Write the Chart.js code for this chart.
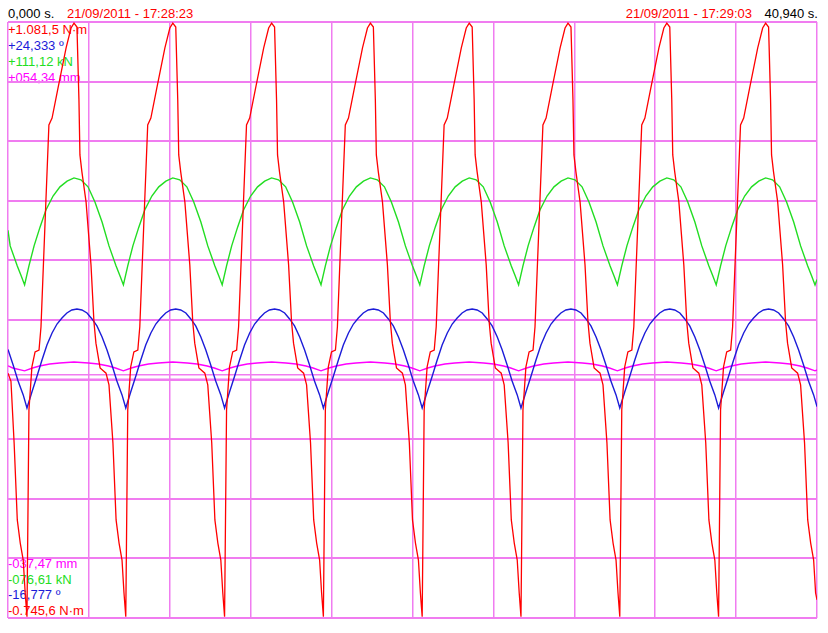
<!DOCTYPE html>
<html><head><meta charset="utf-8">
<script src="https://cdn.jsdelivr.net/npm/chart.js@4"></script>
<style>
html,body{margin:0;padding:0;background:#fff;}
#wrap{position:relative;width:828px;height:633px;overflow:hidden;}
#c{position:absolute;left:0;top:0;z-index:2;}
.lbl{position:absolute;z-index:1;font-family:'Liberation Sans',Arial,sans-serif;font-size:13px;line-height:16px;white-space:nowrap;}
</style></head><body>
<div id="wrap"><canvas id="c" width="828" height="633"></canvas></div>
<script>
// ---- text ----
const headerLeft = ['0,000 s.', '21/09/2011 - 17:28:23'];
const headerRight = ['21/09/2011 - 17:29:03', '40,940 s.'];
const maxLabels = ['+1.081,5 N·m', '+24,333 º', '+111,12 kN', '+054,34 mm'];
const minLabels = ['-037,47 mm', '-076,61 kN', '-16,777 º', '-0.745,6 N·m'];

// ---- channel ranges ----
const torqueRange = [-745.6, 1081.5];
const angleRange = [-16.777, 24.333];
const forceRange = [-76.61, 111.12];
const dispRange = [-37.47, 54.34];
const timeRange = [0, 40.94];
const zeroLevels = [0, -13.5];

// ---- torque (N·m) ----
const torqueT = [
0, 0.15, 0.31, 0.47, 0.62, 0.77, 0.87,
0.96, 1.06, 1.21, 1.37, 1.57, 1.67, 1.89, 2.07, 2.23, 2.53, 2.94, 3.19, 3.34, 3.49, 3.59, 3.64, 3.74, 3.95, 4.20, 4.35, 4.45, 4.66, 4.96, 5.11, 5.31, 5.47, 5.62, 5.77, 5.87,
5.96, 6.06, 6.21, 6.37, 6.57, 6.67, 6.89, 7.07, 7.23, 7.53, 7.94, 8.19, 8.34, 8.49, 8.59, 8.64, 8.74, 8.95, 9.20, 9.35, 9.45, 9.66, 9.96, 10.11, 10.31, 10.47, 10.62, 10.77, 10.87,
10.96, 11.06, 11.21, 11.37, 11.57, 11.67, 11.89, 12.07, 12.23, 12.53, 12.94, 13.19, 13.34, 13.49, 13.59, 13.64, 13.74, 13.95, 14.20, 14.35, 14.45, 14.66, 14.96, 15.11, 15.31, 15.47, 15.62, 15.77, 15.87,
15.96, 16.06, 16.21, 16.37, 16.57, 16.67, 16.89, 17.07, 17.23, 17.53, 17.94, 18.19, 18.34, 18.49, 18.59, 18.64, 18.74, 18.95, 19.20, 19.35, 19.45, 19.66, 19.96, 20.11, 20.31, 20.47, 20.62, 20.77, 20.87,
20.96, 21.06, 21.21, 21.37, 21.57, 21.67, 21.89, 22.07, 22.23, 22.53, 22.94, 23.19, 23.34, 23.49, 23.59, 23.64, 23.74, 23.95, 24.20, 24.35, 24.45, 24.66, 24.96, 25.11, 25.31, 25.47, 25.62, 25.77, 25.87,
25.96, 26.06, 26.21, 26.37, 26.57, 26.67, 26.89, 27.07, 27.23, 27.53, 27.94, 28.19, 28.34, 28.49, 28.59, 28.64, 28.74, 28.95, 29.20, 29.35, 29.45, 29.66, 29.96, 30.11, 30.31, 30.47, 30.62, 30.77, 30.87,
30.96, 31.06, 31.21, 31.37, 31.57, 31.67, 31.89, 32.07, 32.23, 32.53, 32.94, 33.19, 33.34, 33.49, 33.59, 33.64, 33.74, 33.95, 34.20, 34.35, 34.45, 34.66, 34.96, 35.11, 35.31, 35.47, 35.62, 35.77, 35.87,
35.96, 36.06, 36.21, 36.37, 36.57, 36.67, 36.89, 37.07, 37.23, 37.53, 37.94, 38.19, 38.34, 38.49, 38.59, 38.64, 38.74, 38.95, 39.20, 39.35, 39.45, 39.66, 39.96, 40.11, 40.31, 40.47, 40.62, 40.77, 40.87,
40.94];
const torqueV = [
5, -20, -209, -445, -516, -568, -669,
-742, -108, 24, 70, 76, 147, 490, 766, 787, 879, 1002, 1063, 1078, 1066, 843, 674, 622, 530, 337, 162, 97, 21, 5, -31, -209, -445, -516, -568, -669,
-742, -108, 24, 70, 76, 147, 490, 766, 787, 879, 1002, 1063, 1078, 1066, 843, 674, 622, 530, 337, 162, 97, 21, 5, -31, -209, -445, -516, -568, -669,
-742, -108, 24, 70, 76, 147, 490, 766, 787, 879, 1002, 1063, 1078, 1066, 843, 674, 622, 530, 337, 162, 97, 21, 5, -31, -209, -445, -516, -568, -669,
-742, -108, 24, 70, 76, 147, 490, 766, 787, 879, 1002, 1063, 1078, 1066, 843, 674, 622, 530, 337, 162, 97, 21, 5, -31, -209, -445, -516, -568, -669,
-742, -108, 24, 70, 76, 147, 490, 766, 787, 879, 1002, 1063, 1078, 1066, 843, 674, 622, 530, 337, 162, 97, 21, 5, -31, -209, -445, -516, -568, -669,
-742, -108, 24, 70, 76, 147, 490, 766, 787, 879, 1002, 1063, 1078, 1066, 843, 674, 622, 530, 337, 162, 97, 21, 5, -31, -209, -445, -516, -568, -669,
-742, -108, 24, 70, 76, 147, 490, 766, 787, 879, 1002, 1063, 1078, 1066, 843, 674, 622, 530, 337, 162, 97, 21, 5, -31, -209, -445, -516, -568, -669,
-742, -108, 24, 70, 76, 147, 490, 766, 787, 879, 1002, 1063, 1078, 1066, 843, 674, 622, 530, 337, 162, 97, 21, 5, -31, -209, -445, -516, -568, -669,
-690];

// ---- angle (º) ----
const angleT = [
0, 0.26, 0.51, 0.77,
0.96, 1.21, 1.47, 1.72, 1.97, 2.23, 2.48, 2.73, 2.98, 3.23, 3.49, 3.74, 4.00, 4.25, 4.50, 4.76, 5.01, 5.26, 5.51, 5.77,
5.96, 6.21, 6.47, 6.72, 6.97, 7.23, 7.48, 7.73, 7.98, 8.23, 8.49, 8.74, 9.00, 9.25, 9.50, 9.76, 10.01, 10.26, 10.51, 10.77,
10.96, 11.21, 11.47, 11.72, 11.97, 12.23, 12.48, 12.73, 12.98, 13.23, 13.49, 13.74, 14.00, 14.25, 14.50, 14.76, 15.01, 15.26, 15.51, 15.77,
15.96, 16.21, 16.47, 16.72, 16.97, 17.23, 17.48, 17.73, 17.98, 18.23, 18.49, 18.74, 19.00, 19.25, 19.50, 19.76, 20.01, 20.26, 20.51, 20.77,
20.96, 21.21, 21.47, 21.72, 21.97, 22.23, 22.48, 22.73, 22.98, 23.23, 23.49, 23.74, 24.00, 24.25, 24.50, 24.76, 25.01, 25.26, 25.51, 25.77,
25.96, 26.21, 26.47, 26.72, 26.97, 27.23, 27.48, 27.73, 27.98, 28.23, 28.49, 28.74, 29.00, 29.25, 29.50, 29.76, 30.01, 30.26, 30.51, 30.77,
30.96, 31.21, 31.47, 31.72, 31.97, 32.23, 32.48, 32.73, 32.98, 33.23, 33.49, 33.74, 34.00, 34.25, 34.50, 34.76, 35.01, 35.26, 35.51, 35.77,
35.96, 36.21, 36.47, 36.72, 36.97, 37.23, 37.48, 37.73, 37.98, 38.23, 38.49, 38.74, 39.00, 39.25, 39.50, 39.76, 40.01, 40.26, 40.51, 40.77,
40.94];
const angleV = [
1.75, 0.68, -0.43, -1.39,
-2.29, -1.19, -0.08, 1.02, 2.05, 2.88, 3.50, 3.92, 4.26, 4.47, 4.54, 4.47, 4.26, 3.85, 3.37, 2.61, 1.71, 0.68, -0.43, -1.39,
-2.29, -1.19, -0.08, 1.02, 2.05, 2.88, 3.50, 3.92, 4.26, 4.47, 4.54, 4.47, 4.26, 3.85, 3.37, 2.61, 1.71, 0.68, -0.43, -1.39,
-2.29, -1.19, -0.08, 1.02, 2.05, 2.88, 3.50, 3.92, 4.26, 4.47, 4.54, 4.47, 4.26, 3.85, 3.37, 2.61, 1.71, 0.68, -0.43, -1.39,
-2.29, -1.19, -0.08, 1.02, 2.05, 2.88, 3.50, 3.92, 4.26, 4.47, 4.54, 4.47, 4.26, 3.85, 3.37, 2.61, 1.71, 0.68, -0.43, -1.39,
-2.29, -1.19, -0.08, 1.02, 2.05, 2.88, 3.50, 3.92, 4.26, 4.47, 4.54, 4.47, 4.26, 3.85, 3.37, 2.61, 1.71, 0.68, -0.43, -1.39,
-2.29, -1.19, -0.08, 1.02, 2.05, 2.88, 3.50, 3.92, 4.26, 4.47, 4.54, 4.47, 4.26, 3.85, 3.37, 2.61, 1.71, 0.68, -0.43, -1.39,
-2.29, -1.19, -0.08, 1.02, 2.05, 2.88, 3.50, 3.92, 4.26, 4.47, 4.54, 4.47, 4.26, 3.85, 3.37, 2.61, 1.71, 0.68, -0.43, -1.39,
-2.29, -1.19, -0.08, 1.02, 2.05, 2.88, 3.50, 3.92, 4.26, 4.47, 4.54, 4.47, 4.26, 3.85, 3.37, 2.61, 1.71, 0.68, -0.43, -1.39,
-2.2];

// ---- force (kN) ----
const forceT = [
0, 0.11, 0.47, 0.67,
0.84, 1.06, 1.32, 1.62, 1.92, 2.28, 2.63, 2.99, 3.34, 3.69, 4.05, 4.40, 4.76, 5.11, 5.47, 5.67,
5.84, 6.06, 6.32, 6.62, 6.92, 7.28, 7.63, 7.99, 8.34, 8.69, 9.05, 9.40, 9.76, 10.11, 10.47, 10.67,
10.84, 11.06, 11.32, 11.62, 11.92, 12.28, 12.63, 12.99, 13.34, 13.69, 14.05, 14.40, 14.76, 15.11, 15.47, 15.67,
15.84, 16.06, 16.32, 16.62, 16.92, 17.28, 17.63, 17.99, 18.34, 18.69, 19.05, 19.40, 19.76, 20.11, 20.47, 20.67,
20.84, 21.06, 21.32, 21.62, 21.92, 22.28, 22.63, 22.99, 23.34, 23.69, 24.05, 24.40, 24.76, 25.11, 25.47, 25.67,
25.84, 26.06, 26.32, 26.62, 26.92, 27.28, 27.63, 27.99, 28.34, 28.69, 29.05, 29.40, 29.76, 30.11, 30.47, 30.67,
30.84, 31.06, 31.32, 31.62, 31.92, 32.28, 32.63, 32.99, 33.34, 33.69, 34.05, 34.40, 34.76, 35.11, 35.47, 35.67,
35.84, 36.06, 36.32, 36.62, 36.92, 37.28, 37.63, 37.99, 38.34, 38.69, 39.05, 39.40, 39.76, 40.11, 40.47, 40.67,
40.84, 40.94];
const forceV = [
45.5, 40.6, 34.3, 31.1,
28.3, 34.3, 40.6, 46.5, 51.9, 56.3, 59.2, 61.0, 62.0, 61.4, 59.2, 54.4, 48.1, 40.6, 34.3, 31.1,
28.3, 34.3, 40.6, 46.5, 51.9, 56.3, 59.2, 61.0, 62.0, 61.4, 59.2, 54.4, 48.1, 40.6, 34.3, 31.1,
28.3, 34.3, 40.6, 46.5, 51.9, 56.3, 59.2, 61.0, 62.0, 61.4, 59.2, 54.4, 48.1, 40.6, 34.3, 31.1,
28.3, 34.3, 40.6, 46.5, 51.9, 56.3, 59.2, 61.0, 62.0, 61.4, 59.2, 54.4, 48.1, 40.6, 34.3, 31.1,
28.3, 34.3, 40.6, 46.5, 51.9, 56.3, 59.2, 61.0, 62.0, 61.4, 59.2, 54.4, 48.1, 40.6, 34.3, 31.1,
28.3, 34.3, 40.6, 46.5, 51.9, 56.3, 59.2, 61.0, 62.0, 61.4, 59.2, 54.4, 48.1, 40.6, 34.3, 31.1,
28.3, 34.3, 40.6, 46.5, 51.9, 56.3, 59.2, 61.0, 62.0, 61.4, 59.2, 54.4, 48.1, 40.6, 34.3, 31.1,
28.3, 34.3, 40.6, 46.5, 51.9, 56.3, 59.2, 61.0, 62.0, 61.4, 59.2, 54.4, 48.1, 40.6, 34.3, 31.1,
28.3, 30.0];

// ---- displacement (mm) ----
const dispT = [
0, 0.24,
0.84, 1.24, 1.60, 2.11, 2.61, 3.34, 4.07, 4.57, 5.08, 5.44,
5.84, 6.24, 6.60, 7.11, 7.61, 8.34, 9.07, 9.57, 10.08, 10.44,
10.84, 11.24, 11.60, 12.11, 12.61, 13.34, 14.07, 14.57, 15.08, 15.44,
15.84, 16.24, 16.60, 17.11, 17.61, 18.34, 19.07, 19.57, 20.08, 20.44,
20.84, 21.24, 21.60, 22.11, 22.61, 23.34, 24.07, 24.57, 25.08, 25.44,
25.84, 26.24, 26.60, 27.11, 27.61, 28.34, 29.07, 29.57, 30.08, 30.44,
30.84, 31.24, 31.60, 32.11, 32.61, 33.34, 34.07, 34.57, 35.08, 35.44,
35.84, 36.24, 36.60, 37.11, 37.61, 38.34, 39.07, 39.57, 40.08, 40.44,
40.84, 40.94];
const dispV = [
1.38, 1.04,
0.60, 1.04, 1.35, 1.66, 1.81, 1.96, 1.81, 1.66, 1.35, 1.04,
0.60, 1.04, 1.35, 1.66, 1.81, 1.96, 1.81, 1.66, 1.35, 1.04,
0.60, 1.04, 1.35, 1.66, 1.81, 1.96, 1.81, 1.66, 1.35, 1.04,
0.60, 1.04, 1.35, 1.66, 1.81, 1.96, 1.81, 1.66, 1.35, 1.04,
0.60, 1.04, 1.35, 1.66, 1.81, 1.96, 1.81, 1.66, 1.35, 1.04,
0.60, 1.04, 1.35, 1.66, 1.81, 1.96, 1.81, 1.66, 1.35, 1.04,
0.60, 1.04, 1.35, 1.66, 1.81, 1.96, 1.81, 1.66, 1.35, 1.04,
0.60, 1.04, 1.35, 1.66, 1.81, 1.96, 1.81, 1.66, 1.35, 1.04,
0.60, 0.75];

// ---- styling ----
const RED = '#ff0000', BLUE = '#1c1cd8', GREEN = '#22dd22', MAG = '#ff00ff';
const GRID = '#f07cf0';
const FONT = "'Liberation Sans', Arial, sans-serif";

const wrap = document.getElementById('wrap');
function addLabel(text, color, css) {
  const s = document.createElement('span');
  s.className = 'lbl';
  s.textContent = text;
  s.style.color = color;
  Object.assign(s.style, css);
  wrap.appendChild(s);
}
addLabel(headerLeft[0], '#000', {left: '8px', top: '6px'});
addLabel(headerLeft[1], RED, {left: '67px', top: '6px'});
addLabel(headerRight[0], RED, {right: '76px', top: '6px'});
addLabel(headerRight[1], '#000', {right: '10px', top: '6px'});
const maxColors = [RED, BLUE, GREEN, MAG];
const minColors = [MAG, GREEN, BLUE, RED];
maxLabels.forEach((t, i) => addLabel(t, maxColors[i], {left: '8px', top: (22 + i * 16) + 'px'}));
minLabels.forEach((t, i) => addLabel(t, minColors[i], {left: '8px', top: (556 + i * 15.6) + 'px'}));

const pts = (T, V) => T.map((t, i) => ({x: t, y: V[i]}));
const line = (label, T, V, color, yAxisID, width) => ({
  label, data: pts(T, V), borderColor: color, borderWidth: width,
  yAxisID, xAxisID: 'x', pointRadius: 0, tension: 0, fill: false
});

const datasets = [
  line('Torque', torqueT, torqueV, RED, 'yT', 1.3),
  line('Angle', angleT, angleV, BLUE, 'yA', 1.4),
  line('Force', forceT, forceV, GREEN, 'yF', 1.4),
  line('Displacement', dispT, dispV, MAG, 'yD', 1.4),
];
zeroLevels.forEach((z, i) => datasets.push({
  label: 'zero' + i, data: [{x: timeRange[0], y: z}, {x: timeRange[1], y: z}],
  borderColor: GRID, borderWidth: 1.5, yAxisID: 'yT', xAxisID: 'x',
  pointRadius: 0, order: 10
}));

new Chart(document.getElementById('c'), {
  type: 'line',
  data: { datasets },
  options: {
    responsive: false, animation: false, events: [],
    layout: { padding: { left: 8, right: 11, top: 22, bottom: 15 } },
    plugins: { legend: { display: false }, tooltip: { enabled: false } },
    scales: {
      x: { type: 'linear', min: timeRange[0], max: timeRange[1], display: false },
      xg: { type: 'linear', position: 'bottom', min: 0, max: 10,
            ticks: { display: false, stepSize: 1 },
            grid: { color: GRID, lineWidth: 1.5, drawTicks: false },
            border: { display: false } },
      yg: { type: 'linear', position: 'left', min: 0, max: 10,
            ticks: { display: false, stepSize: 1 },
            grid: { color: GRID, lineWidth: 2, drawTicks: false },
            border: { display: false } },
      yT: { type: 'linear', min: torqueRange[0], max: torqueRange[1], display: false },
      yA: { type: 'linear', min: angleRange[0], max: angleRange[1], display: false },
      yF: { type: 'linear', min: forceRange[0], max: forceRange[1], display: false },
      yD: { type: 'linear', min: dispRange[0], max: dispRange[1], display: false }
    }
  }
});
</script>
</body></html>
